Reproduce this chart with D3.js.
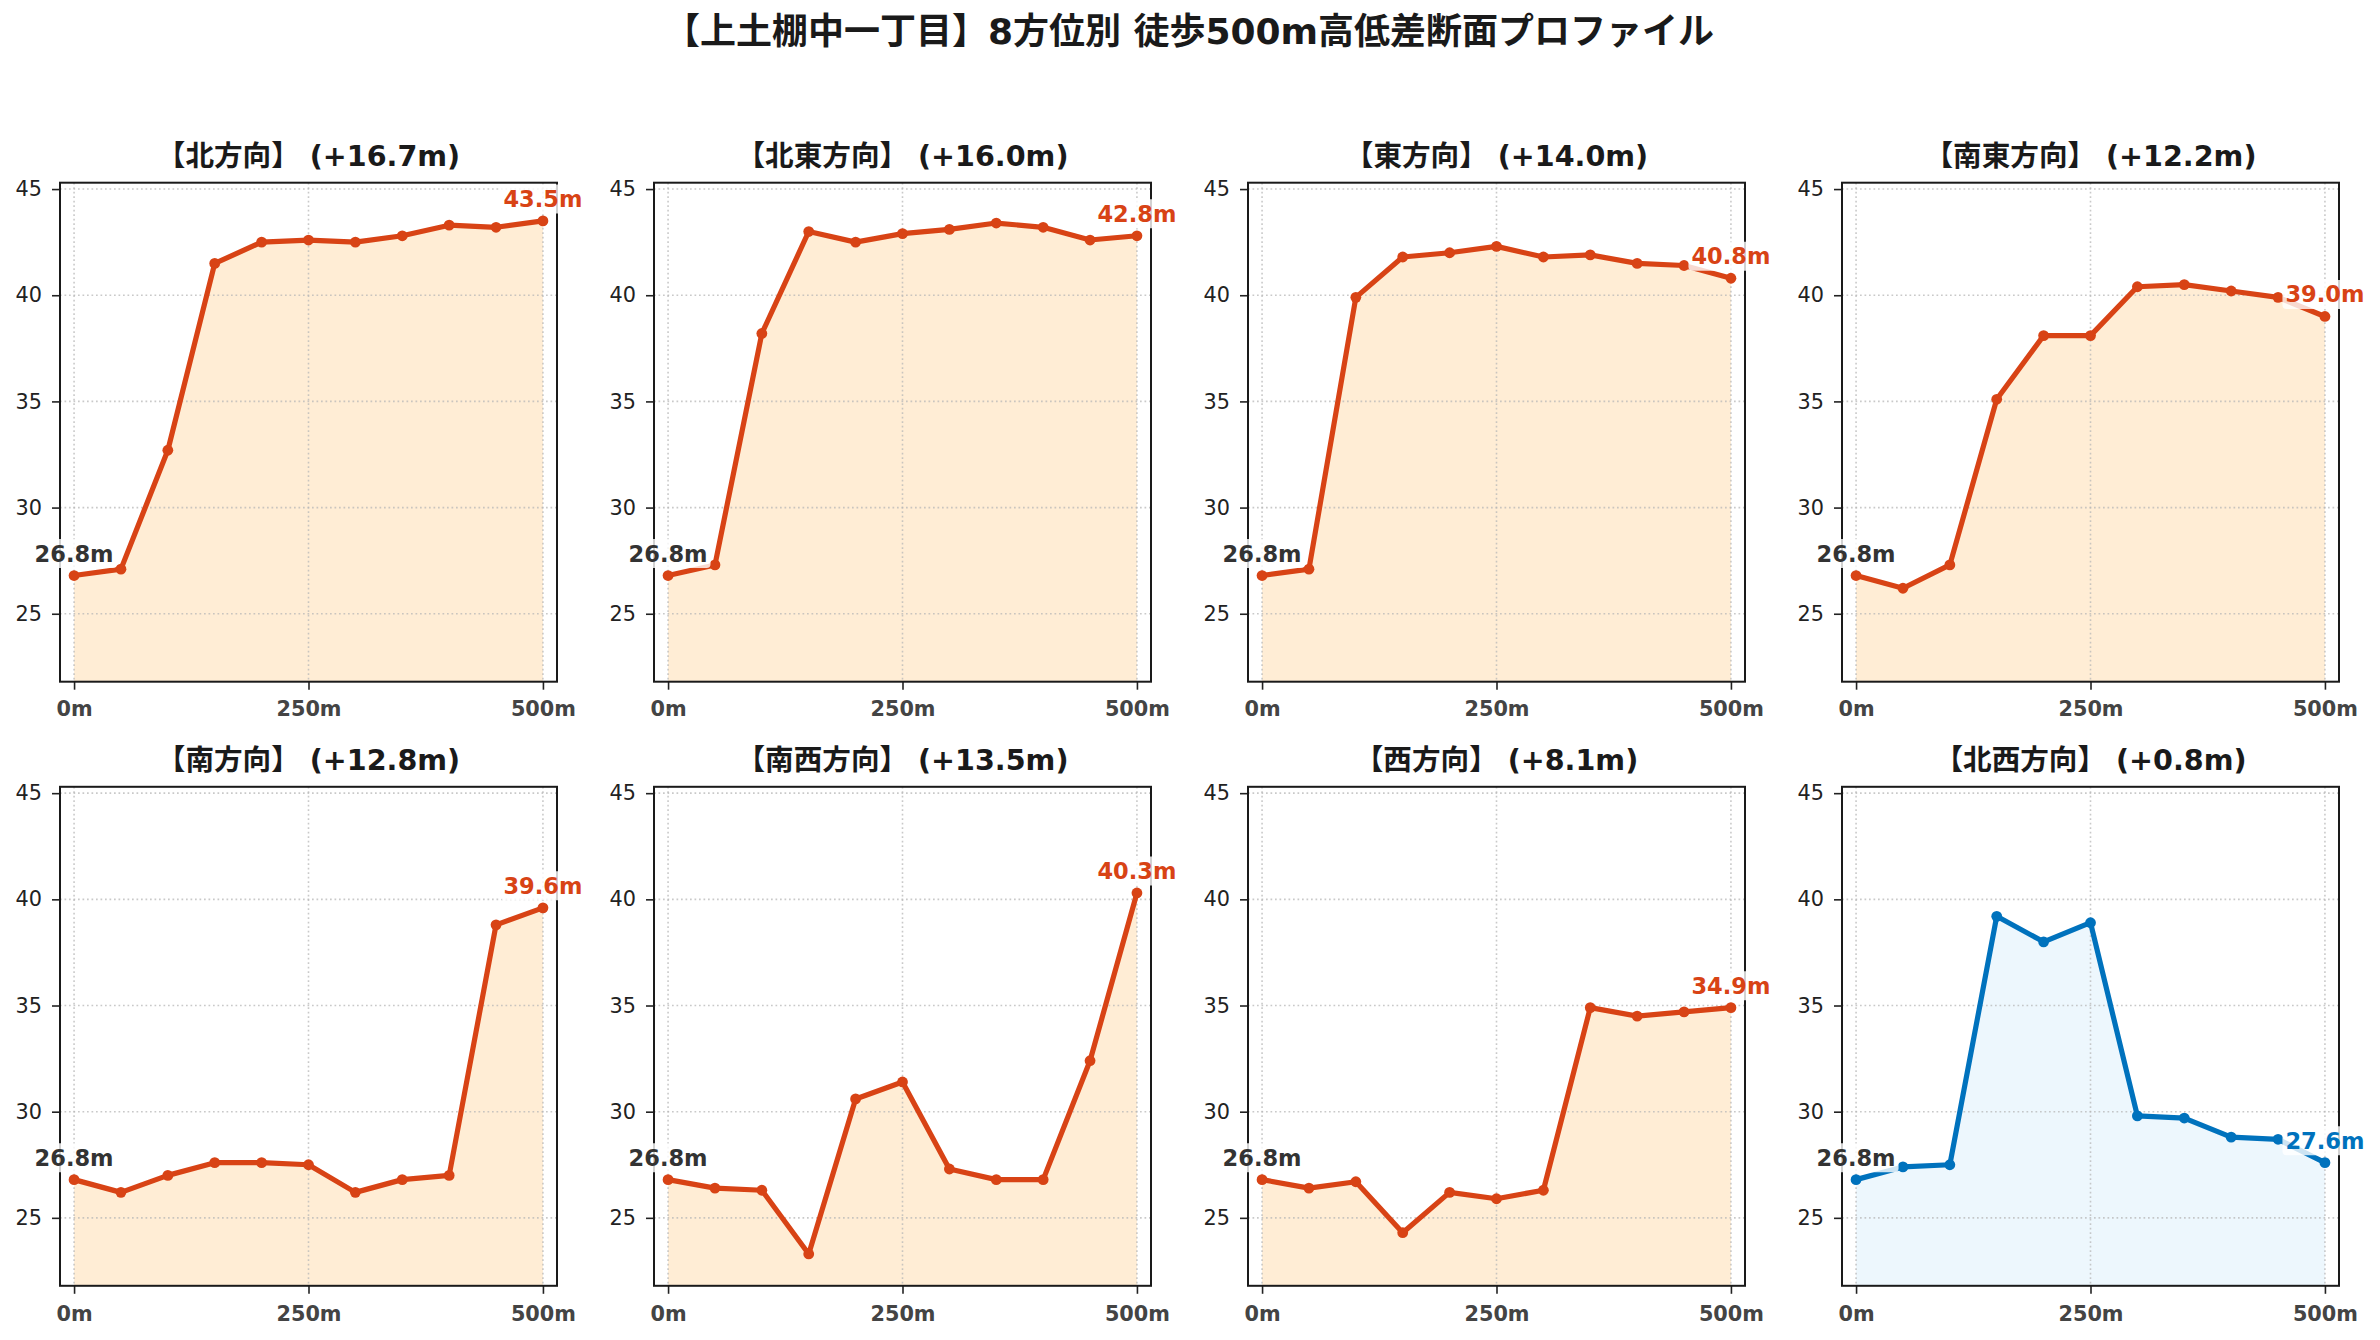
<!DOCTYPE html>
<html>
<head>
<meta charset="utf-8">
<script src="https://cdn.jsdelivr.net/npm/d3@7"></script>
<style>
  html, body { margin: 0; padding: 0; background: #fff; }
  svg { display: block; }
  text { font-family: 'DejaVu Sans', 'Noto Sans CJK JP', sans-serif; }
</style>
</head>
<body>
<svg id="chart"></svg>
<script>
// ---------- data ----------
const chartTitle = "【上土棚中一丁目】8方位別 徒歩500m高低差断面プロファイル";
const distances = [0, 50, 100, 150, 200, 250, 300, 350, 400, 450, 500];
const directions = ["北", "北東", "東", "南東", "南", "南西", "西", "北西"];
const elevNorth     = [26.8, 27.1, 32.7, 41.5, 42.5, 42.6, 42.5, 42.8, 43.3, 43.2, 43.5];
const elevNorthEast = [26.8, 27.3, 38.2, 43.0, 42.5, 42.9, 43.1, 43.4, 43.2, 42.6, 42.8];
const elevEast      = [26.8, 27.1, 39.9, 41.8, 42.0, 42.3, 41.8, 41.9, 41.5, 41.4, 40.8];
const elevSouthEast = [26.8, 26.2, 27.3, 35.1, 38.1, 38.1, 40.4, 40.5, 40.2, 39.9, 39.0];
const elevSouth     = [26.8, 26.2, 27.0, 27.6, 27.6, 27.5, 26.2, 26.8, 27.0, 38.8, 39.6];
const elevSouthWest = [26.8, 26.4, 26.3, 23.3, 30.6, 31.4, 27.3, 26.8, 26.8, 32.4, 40.3];
const elevWest      = [26.8, 26.4, 26.7, 24.3, 26.2, 25.9, 26.3, 34.9, 34.5, 34.7, 34.9];
const elevNorthWest = [26.8, 27.4, 27.5, 39.2, 38.0, 38.9, 29.8, 29.7, 28.8, 28.7, 27.6];
const elevations = [elevNorth, elevNorthEast, elevEast, elevSouthEast,
                    elevSouth, elevSouthWest, elevWest, elevNorthWest];
const xTickValues = [0, 250, 500];
const xTickLabels = ["0m", "250m", "500m"];
const yTickValues = [25, 30, 35, 40, 45];
const yDomain = [21.8, 45.3];
const xDomain = [-15, 515];

// ---------- layout / style ----------
const W = 2380, H = 1340;
const colLeft = [60, 654, 1248, 1842];
const rowTop = [182.7, 786.8];
const pw = 497, ph = 499;
const FONT = "'DejaVu Sans', 'Noto Sans CJK JP', sans-serif";
const upColor = { line: "#D84315", fill: "#FFEDD5" };
const flatColor = { line: "#0072BD", fill: "#EDF7FD" };

const svg = d3.select("#chart").attr("width", W).attr("height", H);
svg.append("rect").attr("width", W).attr("height", H).attr("fill", "#fff");

svg.append("text")
  .attr("x", 1189).attr("y", 44)
  .attr("text-anchor", "middle")
  .attr("font-size", 36).attr("font-weight", "bold").attr("fill", "#1a1a1a")
  .text(chartTitle);

const x = d3.scaleLinear().domain(xDomain).range([0, pw]);
const y = d3.scaleLinear().domain(yDomain).range([ph, 0]);

function label(g, px, py, str, color) {
  const t = g.append("text")
    .attr("x", px).attr("y", py - 14)
    .attr("text-anchor", "middle")
    .attr("font-size", 22.5).attr("font-weight", "bold").attr("fill", color)
    .text(str);
  const bb = t.node().getBBox();
  g.insert("rect", () => t.node())
    .attr("x", bb.x - 3).attr("y", bb.y - 1.5)
    .attr("width", bb.width + 6).attr("height", bb.height + 3)
    .attr("rx", 4).attr("fill", "#fff").attr("fill-opacity", 0.8);
}

directions.forEach((dir, i) => {
  const vals = elevations[i];
  const pts = distances.map((d, k) => [d, vals[k]]);
  const start = vals[0], end = vals[vals.length - 1];
  const diff = end - start;
  const col = diff < 5 ? flatColor : upColor;
  const gx = colLeft[i % 4], gy = rowTop[Math.floor(i / 4)];
  const g = svg.append("g").attr("transform", `translate(${gx},${gy})`);

  // subplot title
  g.append("text")
    .attr("x", pw / 2).attr("y", -17)
    .attr("text-anchor", "middle")
    .attr("font-size", 28.6).attr("font-weight", "bold").attr("fill", "#1a1a1a")
    .text(`【${dir}方向】 (+${diff.toFixed(1)}m)`);

  // fill area
  const area = d3.area().x(d => x(d[0])).y0(y(yDomain[0])).y1(d => y(d[1]));
  g.append("path").datum(pts).attr("d", area).attr("fill", col.fill);

  // grid
  const grid = g.append("g");
  yTickValues.forEach(v => {
    grid.append("line").attr("x1", 0).attr("x2", pw).attr("y1", y(v)).attr("y2", y(v))
      .attr("stroke", "#b8b8b8").attr("stroke-width", 1.6).attr("stroke-dasharray", "1.7 2.8")
      .attr("opacity", 0.75);
  });
  xTickValues.forEach(v => {
    grid.append("line").attr("y1", 0).attr("y2", ph).attr("x1", x(v)).attr("x2", x(v))
      .attr("stroke", "#b8b8b8").attr("stroke-width", 1.6).attr("stroke-dasharray", "1.7 2.8")
      .attr("opacity", 0.75);
  });

  // line + markers
  const line = d3.line().x(d => x(d[0])).y(d => y(d[1]));
  g.append("path").datum(pts).attr("d", line)
    .attr("fill", "none").attr("stroke", col.line).attr("stroke-width", 5.2)
    .attr("stroke-linejoin", "round").attr("stroke-linecap", "round");
  g.selectAll("circle.m").data(pts).enter().append("circle")
    .attr("cx", d => x(d[0])).attr("cy", d => y(d[1])).attr("r", 5.4)
    .attr("fill", col.line);

  // axes
  const xa = g.append("g").attr("transform", `translate(0,${ph})`)
    .call(d3.axisBottom(x).tickValues(xTickValues)
      .tickFormat((d, k) => xTickLabels[k]).tickSize(8).tickPadding(12));
  xa.select(".domain").remove();
  xa.selectAll("line").attr("stroke", "#222").attr("stroke-width", 1.6);
  xa.selectAll("text").attr("font-family", FONT).attr("font-size", 20.8)
    .attr("font-weight", "bold").attr("fill", "#444");

  const ya = g.append("g")
    .call(d3.axisLeft(y).tickValues(yTickValues).tickSize(8).tickPadding(10));
  ya.select(".domain").remove();
  ya.selectAll("line").attr("stroke", "#222").attr("stroke-width", 1.6);
  ya.selectAll("text").attr("font-family", FONT).attr("font-size", 20.8).attr("fill", "#222");

  // spines
  g.append("rect").attr("width", pw).attr("height", ph)
    .attr("fill", "none").attr("stroke", "#1a1a1a").attr("stroke-width", 2);

  // annotations
  label(g, x(distances[0]), y(start), `${start.toFixed(1)}m`, "#333");
  label(g, x(distances[distances.length - 1]), y(end), `${end.toFixed(1)}m`, col.line);
});
</script>
</body>
</html>
